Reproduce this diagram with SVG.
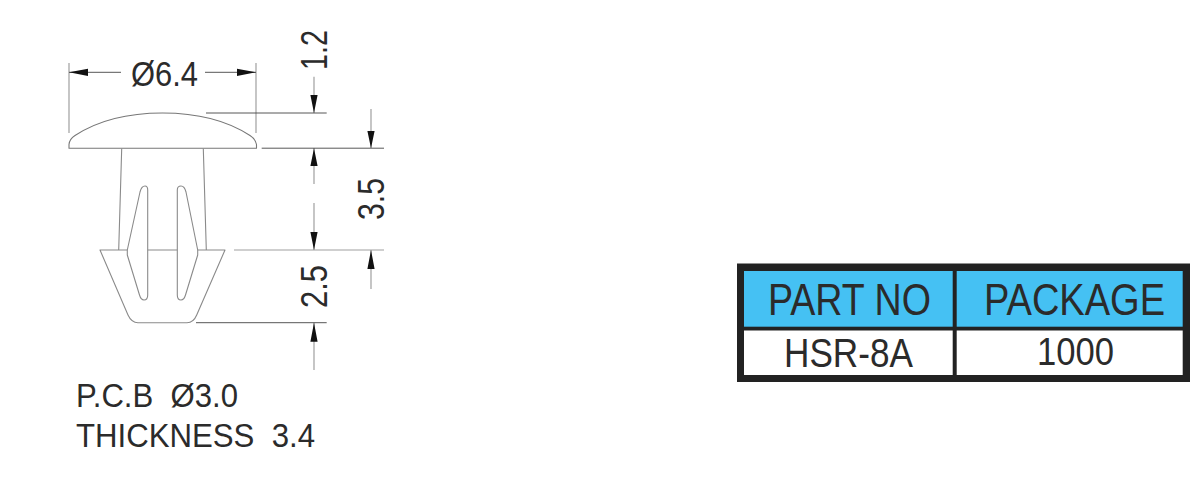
<svg xmlns="http://www.w3.org/2000/svg" width="1200" height="477" viewBox="0 0 1200 477">
<style>
text{font-family:"Liberation Sans",Arial,sans-serif;fill:#2b2b2b;white-space:pre}
.part{fill:none;stroke:#8a8a8a;stroke-width:1.1;stroke-linejoin:round}
.dim{fill:none;stroke:#444;stroke-width:.9}
.ext{fill:none;stroke:#a0a0a0;stroke-width:1.2}
.ah{fill:#111;stroke:none}
</style>
<rect width="1200" height="477" fill="#fff"/>
<g id="part">
<path class="part" style="stroke:#777" d="M69 148.300 L69 144.500 Q69.500 139 75 135.500 C98 120.500 128 113 162.500 113 C197 113 227 120.500 250 135.500 Q255.500 139 256.500 144.500 L256.500 148.300 Z"/>
<path class="part" d="M121.700 148.500 L118.700 250 M203.300 148.500 L206.300 250"/>
<path class="part" d="M100 250 L225 250 L196.700 315 Q193.500 322.700 187 322.700 L138 322.700 Q131.500 322.700 128 315 Z"/>
<path class="part" style="fill:#fff" d="M127.300 250 L140 192 Q141.500 186 145 186 Q147.700 186 147.700 190 L147.700 295 Q147.700 300 144 300 Q141 300 139.500 295 L127.300 255 Z"/>
<path class="part" style="fill:#fff" d="M197.700 250 L186 192 Q184.500 186 181 186 Q177.300 186 177.300 190 L177.300 295 Q177.300 300 181 300 Q184 300 185.500 295 L197.700 255 Z"/>
</g>
<g id="connectors">
<path class="ext" d="M69 63V133M256 63V133M314 76.700V113M314 148V184M314 203V250M314 322.700V370M371 109V148M371 250V289"/>
<path class="dim" d="M69 72.300H121M205 72.300H256M206 113H326.700M261.700 148.200H384M196 322.700H326.700"/>
<path class="ext" d="M234 250H384"/>
<path class="ah" d="M69 72.300L88 68.700V75.900ZM256 72.300L237 68.700V75.900ZM314 113L310.400 95H317.600ZM314 148.200L310.400 166H317.600ZM314 250L310.400 232H317.600ZM314 322.700L310.400 341.700H317.600ZM371 148.200L367.400 131H374.600ZM371 250L367.400 269H374.600Z"/>
</g>
<g id="labels">
<text x="131" y="85.500" font-size="35" textLength="67" lengthAdjust="spacingAndGlyphs">Ø6.4</text>
<text transform="translate(327 70) rotate(-90)" font-size="37" textLength="40" lengthAdjust="spacingAndGlyphs">1.2</text>
<text transform="translate(384 220) rotate(-90)" font-size="37" textLength="42" lengthAdjust="spacingAndGlyphs">3.5</text>
<text transform="translate(327 308) rotate(-90)" font-size="37" textLength="43" lengthAdjust="spacingAndGlyphs">2.5</text>
<text x="76" y="406.700" font-size="34" textLength="162" lengthAdjust="spacingAndGlyphs">P.C.B  Ø3.0</text>
<text x="76" y="446.700" font-size="34" textLength="239" lengthAdjust="spacingAndGlyphs">THICKNESS  3.4</text>
</g>
<g id="table">
<rect x="737" y="263.500" width="453" height="118.500" fill="#222"/>
<rect x="744" y="271" width="208.700" height="55.700" fill="#45c1f3"/>
<rect x="956.700" y="271" width="226" height="55.700" fill="#45c1f3"/>
<rect x="744" y="330.500" width="208.700" height="44.500" fill="#fff"/>
<rect x="956.700" y="330.500" width="226" height="44.500" fill="#fff"/>
<text x="768" y="315" font-size="44" textLength="163" lengthAdjust="spacingAndGlyphs">PART NO</text>
<text x="984" y="315" font-size="44" textLength="181" lengthAdjust="spacingAndGlyphs">PACKAGE</text>
<text x="784" y="366.700" font-size="41" textLength="129" lengthAdjust="spacingAndGlyphs">HSR-8A</text>
<text x="1037" y="365" font-size="39" textLength="77" lengthAdjust="spacingAndGlyphs">1000</text>
</g>
</svg>
